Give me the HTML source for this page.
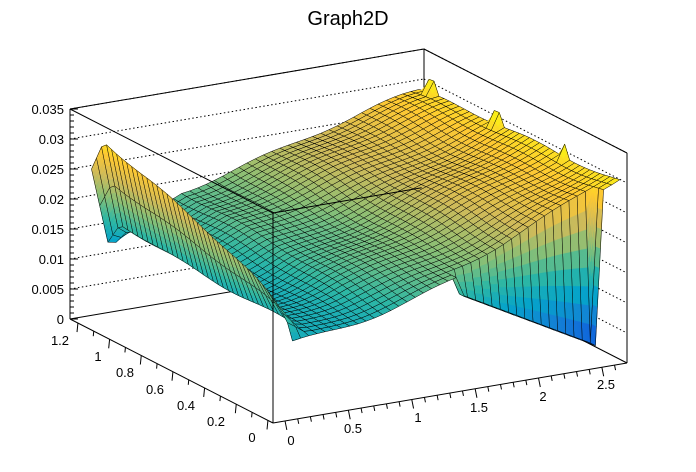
<!DOCTYPE html>
<html><head><meta charset="utf-8">
<style>
html,body{margin:0;padding:0;background:#fff;}
svg{display:block;font-family:"Liberation Sans",sans-serif;}
</style></head>
<body>
<svg id="s" width="696" height="472" viewBox="0 0 696 472" xmlns="http://www.w3.org/2000/svg">
<rect width="696" height="472" fill="#fff"/>
<text x="348" y="25" font-size="20" text-anchor="middle">Graph2D</text>
<g id="back" stroke="#000" fill="none" stroke-width="1"></g>
<g id="surf" stroke-linejoin="round"></g>
<g id="front" stroke="#000" fill="none" stroke-width="1"></g>
<g id="lab" font-size="13" fill="#000"></g>
</svg>
<script>
var NS="http://www.w3.org/2000/svg";
function el(p,t,a,txt){var e=document.createElementNS(NS,t);for(var k in a)e.setAttribute(k,a[k]);if(txt!==undefined)e.textContent=txt;p.appendChild(e);return e;}
var F=[273,423],UX=[354,-60],VY=[-203,-104],ZS=6000;
function P(u,v,z){return [F[0]+u*UX[0]+v*VY[0], F[1]+u*UX[1]+v*VY[1]-z*ZS];}
var back=document.getElementById('back'),surf=document.getElementById('surf'),front=document.getElementById('front'),lab=document.getElementById('lab');
function line(g,a,b,extra){var o={x1:a[0],y1:a[1],x2:b[0],y2:b[1]};for(var k in extra)o[k]=extra[k];el(g,'line',o);}
var LB=P(0,1,0),BB=P(1,1,0),RB=P(1,0,0);
for(var i=1;i<=7;i++){var z=i*0.005;
 line(back,P(0,1,z),P(1,1,z),{'stroke-dasharray':'1.5,2.5','stroke-width':1});
 line(back,P(1,1,z),P(1,0,z),{'stroke-dasharray':'1.5,2.5','stroke-width':1});}
line(back,LB,BB);line(back,BB,RB);
line(back,P(1,1,0),P(1,1,0.035));
line(back,P(0,1,0.035),P(1,1,0.035));line(back,P(1,1,0.035),P(1,0,0.035));
line(back,P(0,1,0),P(0,1,0.035));
line(back,P(1,0,0),P(1,0,0.035));
var pal=[[0.2082,0.1664,0.5293],[0.0592,0.3599,0.8684],[0.0780,0.5041,0.8385],[0.0232,0.6419,0.7914],[0.1802,0.7178,0.6425],[0.5301,0.7492,0.4662],[0.8186,0.7328,0.3499],[0.9956,0.7862,0.1968],[0.9764,0.9832,0.0539]];
function col(t){t=Math.max(0,Math.min(1,t));var x=t*8,i=Math.min(7,Math.floor(x)),f=x-i;var c=[0,1,2].map(function(k){return Math.round(255*(pal[i][k]+(pal[i+1][k]-pal[i][k])*f));});return 'rgb('+c.join(',')+')';}
var u0=0.055,u1=0.98,v0=0.0,v1=0.99;
function f(u,v){
 var z=0.0125+0.006*u+0.013*u*u+0.003*v-0.006*v*Math.pow(u,4)+0.0004*Math.sin(u*17+v*5)+0.0003*Math.sin(v*13-u*4);
 var w=Math.max(0,1-(u-u0)/0.05);
 z+=w*0.0155*Math.pow(v,0.5);
 if(u<0.3){z-=0.002*Math.sin(Math.PI*(u-u0)/0.25)*v;}
 if(v>0.93&&u<0.2){z-=(v-0.93)/0.06*0.009*(1-u/0.2);}
 if(v<0.03&&u>0.53&&u<0.925){var d=0.016-(u-0.53)/0.39*0.0125;z=Math.min(z,d);}
 if(u>0.96){var sp=[0.93,0.6,0.27];for(var k=0;k<3;k++){if(Math.abs(v-sp[k])<0.02)z+=0.0022;}}
 return z;}
var NU=40,NV=40;
var G=[];for(var i=0;i<=NU;i++){G[i]=[];for(var j=0;j<=NV;j++){var u=u0+(u1-u0)*i/NU,v=v0+(v1-v0)*j/NV;G[i][j]=[u,v,f(u,v)];}}
var cells=[];
for(var i=0;i<NU;i++)for(var j=0;j<NV;j++){cells.push([i,j]);}
cells.sort(function(a,b){return (b[0]+b[1]*1.1)-(a[0]+a[1]*1.1);});
var zmin=0.0,zmax=0.032;
function sp(p){var s=P(p[0],p[1],p[2]);return s[0].toFixed(1)+','+s[1].toFixed(1);}
function bil(q,a,b){var r=[];for(var k=0;k<3;k++){r[k]=q[0][k]*(1-a)*(1-b)+q[1][k]*a*(1-b)+q[2][k]*a*b+q[3][k]*(1-a)*b;}return r;}
cells.forEach(function(c){var i=c[0],j=c[1];var q=[G[i][j],G[i+1][j],G[i+1][j+1],G[i][j+1]];
 var zs=q.map(function(p){return p[2];});var zr=Math.max.apply(null,zs)-Math.min.apply(null,zs);
 var n=Math.min(8,Math.max(1,Math.ceil(zr/0.0015)));
 if(n==1){var zm=(zs[0]+zs[1]+zs[2]+zs[3])/4;
  el(surf,'polygon',{points:q.map(sp).join(' '),fill:col((zm-zmin)/(zmax-zmin)),stroke:'#000','stroke-width':0.5});return;}
 var g=el(surf,'g',{});
 for(var a=0;a<n;a++)for(var b=0;b<n;b++){
  var s=[bil(q,a/n,b/n),bil(q,(a+1)/n,b/n),bil(q,(a+1)/n,(b+1)/n),bil(q,a/n,(b+1)/n)];
  var zm=(s[0][2]+s[1][2]+s[2][2]+s[3][2])/4;var cc=col((zm-zmin)/(zmax-zmin));
  el(g,'polygon',{points:s.map(sp).join(' '),fill:cc,stroke:cc,'stroke-width':0.6});}
 el(g,'polygon',{points:q.map(sp).join(' '),fill:'none',stroke:'#000','stroke-width':0.5});
});
line(front,P(0,0,0),P(0,0,0.035));
line(front,P(0,0,0.035),P(0,1,0.035));
line(front,P(0,0,0.035),P(0.42,0,0.035));
line(front,P(0,0,0),P(1,0,0));
line(front,P(0,0,0),P(0,1,0));
for(var k=0;k<=35;k++){var z=k*0.001,p=P(0,1,z),L=(k%5==0)?8:4;line(front,[p[0],p[1]],[p[0]+L,p[1]],{'stroke-width':1});}
var zl=['0','0.005','0.01','0.015','0.02','0.025','0.03','0.035'];
for(var k=0;k<8;k++){var p=P(0,1,k*0.005);el(lab,'text',{x:p[0]-6,y:p[1]+5,'text-anchor':'end'},zl[k]);}
function ux(t){return 0.034+t/0.5*0.179;}
for(var k=0;k<=27;k++){var t=k*0.1,u=ux(t);if(u>1)break;var p=P(u,0,0),L=(k%5==0)?9:5;line(front,p,[p[0]+L*0.2,p[1]+L],{'stroke-width':1});}
var xl=[['0',291,445],['0.5',353,433],['1',418,422],['1.5',479,412],['2',543,401],['2.5',606,389]];
xl.forEach(function(a){el(lab,'text',{x:a[1],y:a[2],'text-anchor':'middle'},a[0]);});
function vy(t){return 0.025+t/0.2*0.156;}
for(var k=0;k<=12;k++){var t=k*0.1,v=vy(t);var p=P(0,v,0),L=(k%2==0)?9:5;line(front,p,[p[0]-L*0.1,p[1]+L],{'stroke-width':1});}
var yl=[['1.2',60,345],['1',98,361],['0.8',125,377],['0.6',155,394],['0.4',186,410],['0.2',216,426],['0',252,442]];
yl.forEach(function(a){el(lab,'text',{x:a[1],y:a[2],'text-anchor':'middle'},a[0]);});
</script>
</body></html>
